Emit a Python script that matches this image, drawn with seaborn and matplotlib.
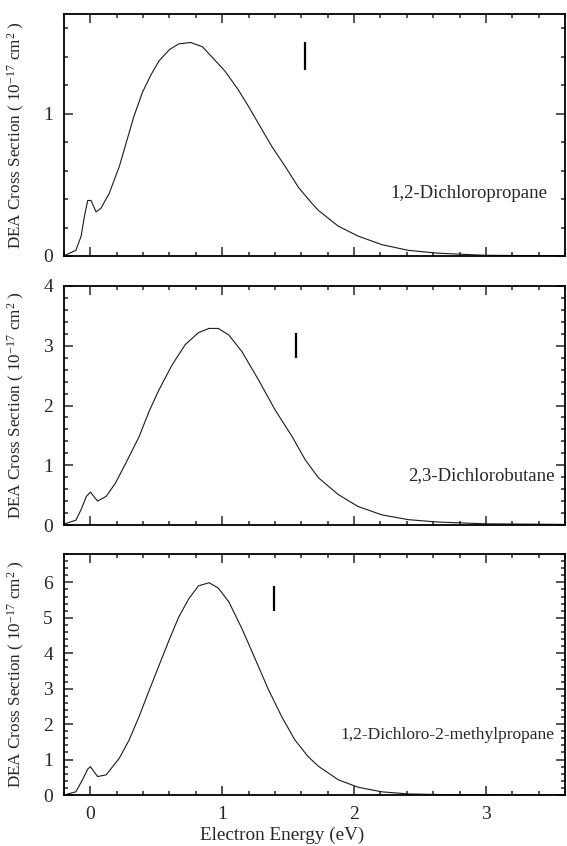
import numpy as np
import pandas as pd
import matplotlib
matplotlib.use("Agg")
import matplotlib.pyplot as plt
import seaborn as sns
from matplotlib.ticker import MultipleLocator

# ---------------- data ----------------
energy_p1 = [-0.2, -0.18, -0.11, -0.07, -0.045, -0.02, 0.005, 0.043, 0.08, 0.143, 0.22, 0.27,
             0.33, 0.395, 0.458, 0.52, 0.6, 0.67, 0.76, 0.85, 0.92, 1.02, 1.12, 1.2, 1.275,
             1.376, 1.477, 1.58, 1.68, 1.73, 1.88, 2.03, 2.21, 2.41, 2.63, 2.99, 3.3, 3.6]
sigma_p1 = [0.005, 0.01, 0.04, 0.14, 0.28, 0.39, 0.39, 0.31, 0.335, 0.44, 0.63, 0.79,
            0.98, 1.15, 1.27, 1.37, 1.45, 1.49, 1.50, 1.47, 1.40, 1.30, 1.17, 1.05, 0.93,
            0.77, 0.63, 0.48, 0.37, 0.32, 0.21, 0.14, 0.08, 0.04, 0.02, 0.005, 0.003, 0.002]

energy_p2 = [-0.2, -0.18, -0.11, -0.07, -0.03, 0.0, 0.055, 0.12, 0.19, 0.27, 0.37, 0.445,
             0.52, 0.62, 0.72, 0.82, 0.90, 0.97, 1.05, 1.15, 1.275, 1.40, 1.53, 1.63, 1.73,
             1.88, 2.03, 2.21, 2.41, 2.63, 2.99, 3.3, 3.6]
sigma_p2 = [0.02, 0.03, 0.08, 0.26, 0.48, 0.55, 0.40, 0.48, 0.70, 1.04, 1.48, 1.90,
            2.26, 2.68, 3.02, 3.22, 3.29, 3.29, 3.18, 2.90, 2.43, 1.93, 1.48, 1.09, 0.79,
            0.51, 0.31, 0.17, 0.09, 0.05, 0.02, 0.015, 0.01]

energy_p3 = [-0.2, -0.18, -0.11, -0.06, -0.02, 0.0, 0.055, 0.12, 0.22, 0.295, 0.37, 0.445,
             0.52, 0.596, 0.67, 0.747, 0.82, 0.90, 0.97, 1.05, 1.15, 1.25, 1.35, 1.45, 1.55,
             1.65, 1.73, 1.88, 2.03, 2.21, 2.41, 2.7, 3.0, 3.3, 3.6]
sigma_p3 = [0.0, 0.02, 0.09, 0.43, 0.73, 0.80, 0.52, 0.57, 1.04, 1.56, 2.22, 2.94,
            3.65, 4.36, 5.02, 5.54, 5.90, 5.99, 5.84, 5.45, 4.69, 3.84, 2.98, 2.22, 1.56,
            1.09, 0.81, 0.43, 0.22, 0.09, 0.03, 0.01, 0.005, 0.0, 0.0]

molecules = ["1,2-Dichloropropane", "2,3-Dichlorobutane", "1,2-Dichloro-2-methylpropane"]
marker_energy = [1.63, 1.557, 1.396]
marker_low = [1.31, 2.79, 5.18]
marker_high = [1.50, 3.22, 5.90]
label_x = [3.47, 3.52, 3.52]
label_y = [0.44, 0.82, 1.70]
y_limits = [1.7, 4.0, 6.8]
y_major = [1, 1, 1]
x_ticks = [0, 1, 2, 3]

# ---------------- style ----------------
sns.set_style("ticks")
plt.rcParams["font.family"] = ["Liberation Serif", "DejaVu Serif"]
plt.rcParams["mathtext.fontset"] = "custom"
plt.rcParams["mathtext.rm"] = "Liberation Serif"
plt.rcParams["mathtext.it"] = "Liberation Serif:italic"
plt.rcParams["mathtext.default"] = "regular"

fig = plt.figure(figsize=(5.67, 8.46), dpi=100)
W, H = 567, 846
boxes = [(14, 256), (286, 525), (554, 795)]
left_px, right_px = 64, 565
label_sizes = [13.5, 13.5, 12.5]

series = [(energy_p1, sigma_p1), (energy_p2, sigma_p2), (energy_p3, sigma_p3)]
axes = []
for i, ((top, bot), (ex, sy)) in enumerate(zip(boxes, series)):
    ax = fig.add_axes([left_px / W, 1 - bot / H, (right_px - left_px) / W, (bot - top) / H])
    axes.append(ax)
    df = pd.DataFrame({"Energy": ex, "Sigma": sy})
    sns.lineplot(data=df, x="Energy", y="Sigma", ax=ax, color="#1a1a1a", lw=0.8)
    ax.plot([marker_energy[i], marker_energy[i]], [marker_low[i], marker_high[i]],
             color="black", lw=1.6, solid_capstyle="butt")
    ax.text(label_x[i], label_y[i], molecules[i], ha="right", va="center",
            fontsize=label_sizes[i])
    ax.set_xlim(-0.2, 3.6)
    ax.set_ylim(0, y_limits[i])
    ax.xaxis.set_major_locator(MultipleLocator(1))
    ax.xaxis.set_minor_locator(MultipleLocator(0.2))
    ax.yaxis.set_major_locator(MultipleLocator(y_major[i]))
    ax.yaxis.set_minor_locator(MultipleLocator(0.2))
    ax.tick_params(which="both", direction="in", top=True, right=True, width=1.1,
                   labelsize=14, pad=8)
    ax.tick_params(which="major", length=6.5)
    ax.tick_params(which="minor", length=3.2)
    for s in ax.spines.values():
        s.set_linewidth(1.3)
        s.set_color("black")
    ax.set_ylabel(r"DEA Cross Section ( 10$^{-17}$ cm$^{2}$ )", fontsize=12.3)
    ax.yaxis.set_label_coords(-0.074, 0.5)
    if i < 2:
        ax.set_xlabel("")
        ax.tick_params(labelbottom=False)
    else:
        ax.set_xticks(x_ticks)
        ax.set_xlabel("Electron Energy (eV)", fontsize=13.8)
        ax.xaxis.set_label_coords(0.435, -0.13)

fig.savefig("out.png", dpi=100)
